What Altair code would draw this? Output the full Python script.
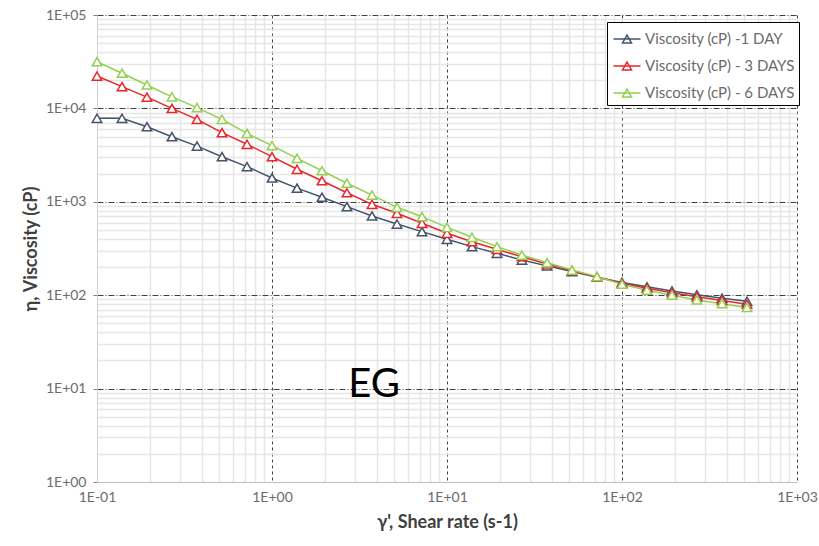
import altair as alt
import pandas as pd

# ---- data ----
shear_rate = [0.1, 0.139, 0.193, 0.268, 0.373, 0.518, 0.72, 1.0, 1.39, 1.93, 2.68, 3.73, 5.18, 7.2,
              10, 13.9, 19.3, 26.8, 37.3, 51.8, 72, 100, 139, 193, 268, 373, 518]
visc_1day = [7830, 7830, 6370, 4980, 3950, 3040, 2380, 1800, 1400, 1120, 887, 705, 578, 479,
             397, 331, 281, 238, 206, 179, 156, 137, 123, 111, 101, 93, 86]
visc_3days = [22200, 17100, 13200, 10000, 7640, 5500, 4130, 3040, 2230, 1680, 1250, 940, 753, 589,
              460, 374, 310, 258, 216, 183, 157, 134, 119, 106, 96, 88, 80]
visc_6days = [31600, 23800, 17800, 13300, 10200, 7640, 5400, 4000, 2920, 2150, 1580, 1180, 873, 693,
              533, 417, 331, 269, 223, 186, 158, 131, 113, 100, 89, 81, 74]
series_names = ["Viscosity (cP) -1 DAY", "Viscosity (cP) - 3 DAYS", "Viscosity (cP) - 6 DAYS"]
series_colors = ["#44546A", "#E8262B", "#92D050"]

annot_x = [3.83]
annot_y = [8.13]
annot_text = ["EG"]

rows = []
for name, vals in zip(series_names, [visc_1day, visc_3days, visc_6days]):
    for xv, yv in zip(shear_rate, vals):
        rows.append({"x": xv, "y": yv, "series": name})
df = pd.DataFrame(rows)
ann = pd.DataFrame({"x": annot_x, "y": annot_y, "t": annot_text})

def log_ticks(lo, hi):
    vals = []
    for e in range(lo, hi):
        for m in range(1, 10):
            vals.append(round(m * 10.0 ** e, 6))
    vals.append(10.0 ** hi)
    return vals

is_major = "abs(log(datum.value)/LN10 - round(log(datum.value)/LN10)) < 0.01"
exp_expr = "round(log(datum.value)/LN10)"
label_expr = (f"({is_major}) ? ('1E' + ({exp_expr} >= 0 ? '+' : '-') + "
              f"(abs({exp_expr}) < 10 ? '0' : '') + abs({exp_expr})) : ''")

FONT = "Lato"
LBL = "#6b6b6b"
TTL = "#404040"

x_axis = alt.Axis(
    values=log_ticks(-1, 3), labelExpr=label_expr, labelOverlap=False, labelFlush=False,
    title="γ', Shear rate (s-1)", titleFont=FONT, titleFontSize=18, titleColor=TTL,
    titleFontWeight="bold", titlePadding=9,
    labelFont=FONT, labelFontSize=14, labelColor=LBL, labelPadding=8,
    ticks=False, domainColor="#bfbfbf", domainWidth=1,
    grid=True,
    gridColor={"condition": {"test": is_major, "value": "#404040"}, "value": "#e6e6e6"},
    gridDash={"condition": {"test": is_major, "value": [3, 3]}, "value": []},
    gridWidth={"condition": {"test": is_major, "value": 1}, "value": 1.5},
)
y_axis = alt.Axis(
    values=log_ticks(0, 5), labelExpr=label_expr, labelOverlap=False, labelFlush=False,
    title="η, Viscosity (cP)", titleFont=FONT, titleFontSize=18, titleColor=TTL,
    titleFontWeight="bold", titlePadding=5,
    labelFont=FONT, labelFontSize=14, labelColor=LBL, labelPadding=7,
    ticks=True, tickSize=4,
    tickColor={"condition": {"test": is_major, "value": "#808080"}, "value": "transparent"},
    domainColor="#d0d0d0", domainWidth=1,
    grid=True,
    gridColor={"condition": {"test": is_major, "value": "#404040"}, "value": "#e6e6e6"},
    gridDash={"condition": {"test": is_major, "value": [6, 2, 1, 2]}, "value": []},
    gridWidth={"condition": {"test": is_major, "value": 1}, "value": 1.5},
)

xs = alt.Scale(type="log", domain=[0.1, 1000], nice=False)
ys = alt.Scale(type="log", domain=[1, 100000], nice=False)
color = alt.Color(
    "series:N",
    scale=alt.Scale(domain=series_names, range=series_colors),
    sort=series_names,
    legend=alt.Legend(
        title=None, orient="none", legendX=510, legendY=7,
        fillColor="white", strokeColor="black", padding=4, rowPadding=6,
        symbolType="M-1.125,0H1.125M0,-0.33L0.375,0.33L-0.375,0.33Z",
        symbolSize=576, symbolStrokeWidth=1.5, symbolOffset=3,
        labelFont=FONT, labelFontSize=15, labelColor=LBL, labelLimit=0, labelOffset=5,
    ),
)

base = alt.Chart(df)
lines = base.mark_line(strokeWidth=1.5).encode(
    x=alt.X("x:Q", scale=xs, axis=x_axis),
    y=alt.Y("y:Q", scale=ys, axis=y_axis),
    color=color,
)
points = base.mark_point(shape="triangle-up", size=90, filled=False, fill="white",
                         fillOpacity=1, strokeWidth=1.5, opacity=1).encode(
    x=alt.X("x:Q", scale=xs),
    y=alt.Y("y:Q", scale=ys),
    color=color,
)
text = alt.Chart(ann).mark_text(font=FONT, fontSize=40, color="black", align="center",
                                baseline="alphabetic").encode(
    x=alt.X("x:Q", scale=xs),
    y=alt.Y("y:Q", scale=ys),
    text="t:N",
)

chart = alt.layer(lines, points, text).properties(
    width=700, height=467,
    autosize=alt.AutoSizeParams(type="none"),
    padding={"left": 97, "top": 15, "right": 22, "bottom": 64},
    background="white",
).configure_view(stroke=None)

chart.save("out.html", embed_options={"renderer": "svg", "actions": False})
